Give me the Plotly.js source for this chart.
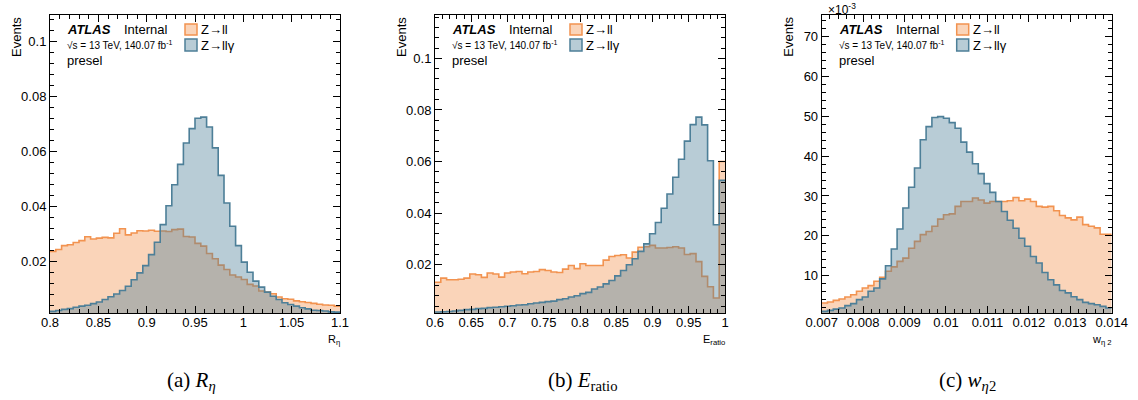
<!DOCTYPE html>
<html><head><meta charset="utf-8">
<script src="https://cdn.plot.ly/plotly-3.0.1.min.js"></script>
<style>html,body{margin:0;padding:0;background:#fff}</style>
</head><body><div id="chart" style="width:1138px;height:400px"></div>
<script>
// ---------- DATA ----------
// (a) R_eta : 50 bins from 0.8 to 1.1
const retaLow = 0.8, retaBinWidth = 0.006;
const retaZll = [0.0236,0.0243,0.0257,0.0260,0.0268,0.0275,0.0289,0.0281,0.0284,0.0287,
  0.0285,0.0302,0.0318,0.0296,0.0303,0.0311,0.0310,0.0313,0.0309,0.0310,
  0.0308,0.0315,0.0317,0.0290,0.0288,0.0265,0.0255,0.0228,0.0209,0.0186,
  0.0170,0.0150,0.0143,0.0134,0.0116,0.0110,0.0092,0.0088,0.0082,0.0070,
  0.0064,0.0062,0.0056,0.0053,0.0050,0.0047,0.0044,0.0041,0.0040,0.0037];
const retaZllg = [0.0018,0.0021,0.0025,0.0028,0.0033,0.0037,0.0040,0.0046,0.0052,0.0061,
  0.0071,0.0081,0.0094,0.0109,0.0133,0.0158,0.0184,0.0224,0.0269,0.0333,
  0.0402,0.0478,0.0552,0.0630,0.0682,0.0720,0.0724,0.0688,0.0612,0.0512,
  0.0412,0.0327,0.0257,0.0197,0.0160,0.0128,0.0106,0.0088,0.0073,0.0061,
  0.0049,0.0043,0.0037,0.0031,0.0027,0.0022,0.0021,0.0019,0.0016,0.0015];

// (b) E_ratio : 50 bins from 0.6 to 1.0
const eratioLow = 0.6, eratioBinWidth = 0.008;
const eratioZll = [0.0132,0.0148,0.0142,0.0142,0.0144,0.0148,0.0164,0.0161,0.0151,0.0168,
  0.0164,0.0152,0.0168,0.0172,0.0174,0.0165,0.0172,0.0174,0.0181,0.0178,
  0.0172,0.0170,0.0183,0.0197,0.0185,0.0204,0.0197,0.0197,0.0197,0.0218,
  0.0232,0.0236,0.0239,0.0226,0.0249,0.0268,0.0270,0.0275,0.0265,0.0265,
  0.0267,0.0270,0.0265,0.0240,0.0243,0.0212,0.0155,0.0115,0.0071,0.0600];
const eratioZllg = [0.0017,0.0018,0.0019,0.0021,0.0023,0.0026,0.0027,0.0030,0.0031,0.0034,
  0.0035,0.0037,0.0039,0.0041,0.0044,0.0045,0.0049,0.0052,0.0054,0.0057,
  0.0059,0.0065,0.0068,0.0075,0.0080,0.0088,0.0093,0.0106,0.0114,0.0126,
  0.0139,0.0157,0.0178,0.0200,0.0223,0.0252,0.0281,0.0320,0.0364,0.0419,
  0.0474,0.0539,0.0609,0.0679,0.0743,0.0772,0.0742,0.0603,0.0355,0.0527];

// (c) w_eta2 : 50 bins from 0.007 to 0.014, values in units of 10^-3
const weta2Low = 0.007, weta2BinWidth = 0.00014;
const weta2Zll = [3.15,3.4,3.8,4.15,4.65,5.2,6.1,6.9,7.5,8.6,
  9.6,11.1,12.2,13.6,14.4,16.9,18.6,20.3,21.1,22.4,
  24.2,25.3,25.5,27.4,28.6,28.6,29.5,29.0,28.2,28.6,
  28.6,28.6,28.8,29.6,28.8,29.2,28.6,27.4,27.2,27.4,
  26.3,25.1,24.5,24.0,24.7,22.8,22.4,22.0,20.4,20.4];
const weta2Zllg = [1.06,1.3,1.6,1.9,2.5,3.0,4.0,4.65,6.1,6.9,
  9.2,12.5,16.7,21.7,27.0,32.2,37.0,44.1,47.4,49.7,
  49.9,49.5,48.4,47.0,43.5,41.0,38.1,35.6,33.1,30.9,
  28.6,26.1,23.9,21.9,19.4,17.4,14.8,13.2,10.8,9.0,
  7.7,6.3,5.7,4.7,4.0,3.3,3.0,2.7,2.3,1.9];

const seriesNames = ['Z→ll', 'Z→llγ'];
const xTitles = ['R<sub>η</sub>', 'E<sub>ratio</sub>', 'w<sub>η 2</sub>'];
const captions = ['(a) <i>R</i><sub><i>η</i></sub>', '(b) <i>E</i><sub>ratio</sub>', '(c) <i>w</i><sub><i>η</i>2</sub>'];

// ---------- STYLE ----------
const W = 1138, H = 400;
const SANS = 'Liberation Sans, Arial, Helvetica, sans-serif';
const orangeLine = 'rgb(242,147,80)', orangeFill = 'rgba(242,147,80,0.4)';
const blueLine = 'rgb(77,127,152)', blueFill = 'rgba(77,127,152,0.4)';
const panelL = [50, 435, 821.7], panelR = [340, 725, 1111.7];
const plotTop = 15, plotBot = 313;

function stepTrace(lo, w, vals, xa, ya, lc, fc) {
  const x = [], y = [];
  for (let i = 0; i < vals.length; i++) { x.push(lo + i * w); y.push(vals[i]); }
  x.push(lo + vals.length * w); y.push(vals[vals.length - 1]);
  return {type: 'scatter', mode: 'lines', x, y, xaxis: xa, yaxis: ya,
    line: {shape: 'hv', color: lc, width: 1.6}, fill: 'tozeroy', fillcolor: fc,
    hoverinfo: 'skip', showlegend: false};
}

const traces = [
  stepTrace(retaLow, retaBinWidth, retaZll, 'x', 'y', orangeLine, orangeFill),
  stepTrace(retaLow, retaBinWidth, retaZllg, 'x', 'y', blueLine, blueFill),
  stepTrace(eratioLow, eratioBinWidth, eratioZll, 'x2', 'y2', orangeLine, orangeFill),
  stepTrace(eratioLow, eratioBinWidth, eratioZllg, 'x2', 'y2', blueLine, blueFill),
  stepTrace(weta2Low, weta2BinWidth, weta2Zll, 'x3', 'y3', orangeLine, orangeFill),
  stepTrace(weta2Low, weta2BinWidth, weta2Zllg, 'x3', 'y3', blueLine, blueFill),
];

function ax(domain, range, tick0, dtick, mdtick, anchor, isX) {
  const a = {domain, range, anchor, tickmode: 'linear', tick0, dtick,
    ticks: 'inside', ticklen: 7, tickwidth: 1, tickcolor: '#000',
    showline: true, linecolor: '#000', linewidth: 1, mirror: 'allticks',
    showgrid: false, zeroline: false, exponentformat: 'none',
    tickfont: {family: SANS, size: 13, color: '#000'},
    minor: {ticks: 'inside', ticklen: 4, tickwidth: 1, tickcolor: '#000', tick0, dtick: mdtick, showgrid: false},
    fixedrange: true};
  if (isX) a.ticklabelstandoff = -3;
  return a;
}
const xd = i => [panelL[i] / W, panelR[i] / W];
const yd = [1 - plotBot / H, 1 - plotTop / H];

const layout = {
  width: W, height: H, margin: {l: 0, r: 0, t: 0, b: 0},
  paper_bgcolor: '#fff', plot_bgcolor: '#fff', showlegend: false,
  xaxis: ax(xd(0), [0.8, 1.1], 0.8, 0.05, 0.01, 'y', true),
  yaxis: ax(yd, [0.0012, 0.1095], 0, 0.02, 0.004, 'x'),
  xaxis2: ax(xd(1), [0.6, 1.0], 0.6, 0.05, 0.01, 'y2', true),
  yaxis2: ax(yd, [0.0013, 0.1168], 0, 0.02, 0.004, 'x2'),
  xaxis3: ax(xd(2), [0.007, 0.014], 0.007, 0.001, 0.0002, 'y3', true),
  yaxis3: ax(yd, [0.64, 75.4], 0, 10, 2, 'x3'),
  annotations: [], shapes: []
};

function A(px, py, text, size, xanchor, yanchor, extra) {
  return Object.assign({xref: 'paper', yref: 'paper', x: px / W, y: 1 - py / H, text,
    showarrow: false, xanchor: xanchor || 'left', yanchor: yanchor || 'middle',
    font: {family: SANS, size, color: '#000'}}, extra || {});
}
const capCenters = [191, 583, 967];
for (let p = 0; p < 3; p++) {
  const L = panelL[p], R = panelR[p];
  layout.annotations.push(
    A(L + 15, 30, '<b><i>ATLAS</i></b>', 13),
    A(L + 72, 30, 'Internal', 13),
    A(L + 15, 45, '√s = 13 TeV, 140.07 fb<sup>-1</sup>', 10),
    A(L + 15, 61, 'presel', 13),
    A(L + 149, 30, seriesNames[0], 13),
    A(L + 149, 45, seriesNames[1], 13),
    A(L - 33, 15, 'Events', 13, 'center', 'top', {textangle: -90}),
    A(R + 2, 331, xTitles[p], 11, 'right', 'top'),
    A(capCenters[p], 381, captions[p], 21, 'center', 'middle',
      {font: {family: 'Liberation Serif, Times New Roman, serif', size: 21, color: '#000'}})
  );
  layout.shapes.push(
    {type: 'rect', xref: 'paper', yref: 'paper', x0: (L + 135) / W, x1: (L + 147) / W,
      y0: 1 - 35 / H, y1: 1 - 24 / H, fillcolor: orangeFill, line: {color: orangeLine, width: 1.5}},
    {type: 'rect', xref: 'paper', yref: 'paper', x0: (L + 135) / W, x1: (L + 147) / W,
      y0: 1 - 51 / H, y1: 1 - 39 / H, fillcolor: blueFill, line: {color: blueLine, width: 1.5}}
  );
}
layout.annotations.push(A(826, 9, '×10<sup>-3</sup>', 12));

Plotly.newPlot('chart', traces, layout, {staticPlot: true, displayModeBar: false});
</script></body></html>
